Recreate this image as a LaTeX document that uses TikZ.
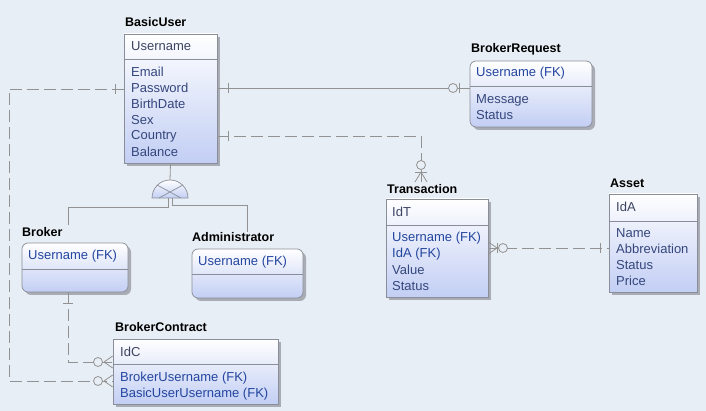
\documentclass[tikz,border=0pt]{standalone}
\usepackage{fontspec}
\setmainfont{Liberation Sans}
\usetikzlibrary{shadows,calc}
\definecolor{bgcol}{HTML}{E8EEF5}
\definecolor{boxline}{HTML}{8A8E98}
\definecolor{boxbot}{HTML}{C2CEF4}
\definecolor{shadowcol}{HTML}{9A9CA4}
\definecolor{keycol}{HTML}{3C4462}
\definecolor{attrcol}{HTML}{34467C}
\definecolor{fkcol}{HTML}{2446A0}
\definecolor{conncol}{HTML}{929292}
\begin{document}
\begin{tikzpicture}[x=1pt,y=-1pt,
  ent/.style={draw=boxline, line width=0.7pt, top color=white, bottom color=boxbot,
    drop shadow={shadow xshift=3pt,shadow yshift=-3pt,fill=shadowcol,opacity=0.8},
    inner sep=0pt},
  dep/.style={ent, rounded corners=6pt},
  sepline/.style={draw=boxline, line width=0.7pt},
  ttl/.style={anchor=west, inner sep=0pt, font=\bfseries\fontsize{12.5}{14}\selectfont, text=black},
  key/.style={anchor=west, inner sep=0pt, font=\fontsize{13}{15}\selectfont, text=keycol},
  attr/.style={anchor=west, inner sep=0pt, font=\fontsize{13}{15}\selectfont, text=attrcol},
  fk/.style={anchor=west, inner sep=0pt, font=\fontsize{13}{15}\selectfont, text=fkcol},
  conn/.style={draw=conncol, line width=0.8pt},
  dconn/.style={conn, dash pattern=on 12pt off 5pt},
  endmark/.style={draw=conncol, line width=0.8pt}
]
\useasboundingbox (0,0) rectangle (706,411);
\fill[bgcol] (0,0) rectangle (706,411);

% ---------- BasicUser ----------
\node[ent, minimum width=93pt, minimum height=129pt] (basic) at (170.5,98.5) {};
\draw[sepline] (basic.west |- 0,59) -- (basic.east |- 0,59);
\node[ttl] (tbasic) at (125,22) {BasicUser};
\node[key]  (b0) at (131,46)  {Username};
\node[attr] (b1) at (131,72)  {Email};
\node[attr] (b2) at (131,88)  {Password};
\node[attr] (b3) at (131,104) {BirthDate};
\node[attr] (b4) at (131,120) {Sex};
\node[attr] (b5) at (131,136) {Country};
\node[attr] (b6) at (131,152) {Balance};

% ---------- BrokerRequest ----------
\node[dep, minimum width=122pt, minimum height=66pt] (breq) at (531,94) {};
\draw[sepline] (breq.west |- 0,86) -- (breq.east |- 0,86);
\node[ttl] (tbreq) at (471,49) {BrokerRequest};
\node[fk]   (r0) at (476,73)  {Username (FK)};
\node[attr] (r1) at (476,100) {Message};
\node[attr] (r2) at (476,115) {Status};

% ---------- Transaction ----------
\node[ent, minimum width=102pt, minimum height=98pt] (trans) at (437,248) {};
\draw[sepline] (trans.west |- 0,225) -- (trans.east |- 0,225);
\node[ttl] (ttrans) at (387,189) {Transaction};
\node[key]  (t0) at (392,212) {IdT};
\node[fk]   (t1) at (392,238) {Username (FK)};
\node[fk]   (t2) at (392,254) {IdA (FK)};
\node[attr] (t3) at (392,270) {Value};
\node[attr] (t4) at (392,286) {Status};

% ---------- Asset ----------
\node[ent, minimum width=88pt, minimum height=98pt] (asset) at (653,243) {};
\draw[sepline] (asset.west |- 0,221) -- (asset.east |- 0,221);
\node[ttl] (tasset) at (610,183) {Asset};
\node[key]  (a0) at (616,207) {IdA};
\node[attr] (a1) at (616,233) {Name};
\node[attr] (a2) at (616,249) {Abbreviation};
\node[attr] (a3) at (616,265) {Status};
\node[attr] (a4) at (616,281) {Price};

% ---------- Broker ----------
\node[dep, minimum width=106pt, minimum height=49pt] (broker) at (75,267.5) {};
\draw[sepline] (broker.west |- 0,269) -- (broker.east |- 0,269);
\node[ttl] (tbroker) at (22,232) {Broker};
\node[fk] (k0) at (28,256) {Username (FK)};

% ---------- Administrator ----------
\node[dep, minimum width=111pt, minimum height=49pt] (admin) at (247.5,273.5) {};
\draw[sepline] (admin.west |- 0,274) -- (admin.east |- 0,274);
\node[ttl] (tadmin) at (192,237) {Administrator};
\node[fk] (d0) at (198,262) {Username (FK)};

% ---------- BrokerContract ----------
\node[ent, minimum width=165pt, minimum height=65pt] (bcon) at (195.5,371.5) {};
\draw[sepline] (bcon.west |- 0,364) -- (bcon.east |- 0,364);
\node[ttl] (tbcon) at (115,327) {BrokerContract};
\node[key] (c0) at (120,352) {IdC};
\node[fk]  (c1) at (120,378) {BrokerUsername (FK)};
\node[fk]  (c2) at (120,394) {BasicUserUsername (FK)};

% ---------- Inheritance ----------
\coordinate (inh) at (170,198);
\draw[draw=boxline, line width=0.7pt, top color=white, bottom color=boxbot]
  (152,198) arc[start angle=180, end angle=360, radius=18] -- cycle;
\draw[boxline, line width=0.7pt] (157,185) -- (181,198) (183,185) -- (159,198);
\draw[conn] (basic.south) -- (170,180);
\coordinate (brokertop) at (68,225);
\coordinate (admintop) at (247,232);
\draw[conn] (168,198) -- (168,207) -| (brokertop);
\draw[conn] (172,198) -- (172,205) -| (admintop);

% ---------- BasicUser -- BrokerRequest ----------
\draw[conn] (basic.east |- 0,88) -- (breq.west |- 0,88);
\draw[endmark] (228,83) -- (228,93);
\draw[endmark, fill=bgcol] (453,88) circle[radius=4.5];
\draw[endmark] (459,83) -- (459,93);

% ---------- BasicUser -- Transaction ----------
\coordinate (tjoin) at (421,182);
\draw[dconn] (basic.east |- 0,136) -| (tjoin);
\draw[endmark] (228,131) -- (228,141);
\draw[endmark, fill=bgcol] (421,165) circle[radius=4.5];
\draw[endmark] (415,172) -- (427,172);
\draw[endmark] (421,172) -- (415,182) (421,172) -- (427,182);

% ---------- Transaction -- Asset ----------
\draw[dconn] (trans.east |- 0,248) -- (asset.west |- 0,248);
\draw[endmark] (497,248) -- (trans.east |- 0,242) (497,248) -- (trans.east |- 0,254);
\draw[endmark] (497,243) -- (497,253);
\draw[endmark, fill=bgcol] (503,248) circle[radius=4.5];
\draw[endmark] (600,243) -- (600,253);

% ---------- BasicUser -- BrokerContract ----------
\coordinate (c1a) at (9,89);
\coordinate (c1b) at (9,381);
\draw[dconn] (basic.west |- 0,89) -- (c1a) -- (c1b) -- (bcon.west |- 0,381);
\draw[endmark] (115,84) -- (115,94);
\draw[endmark, fill=bgcol] (98,381) circle[radius=4.5];
\draw[endmark] (104,381) -- (bcon.west |- 0,375) (104,381) -- (bcon.west |- 0,387);

% ---------- Broker -- BrokerContract ----------
\coordinate (c2a) at (68,362);
\draw[dconn] (broker.south -| 68,0) -- (c2a) -- (bcon.west |- 0,362);
\draw[endmark] (63,303) -- (73,303);
\draw[endmark, fill=bgcol] (98,362) circle[radius=4.5];
\draw[endmark] (104,362) -- (bcon.west |- 0,356) (104,362) -- (bcon.west |- 0,368);

\end{tikzpicture}
\end{document}
